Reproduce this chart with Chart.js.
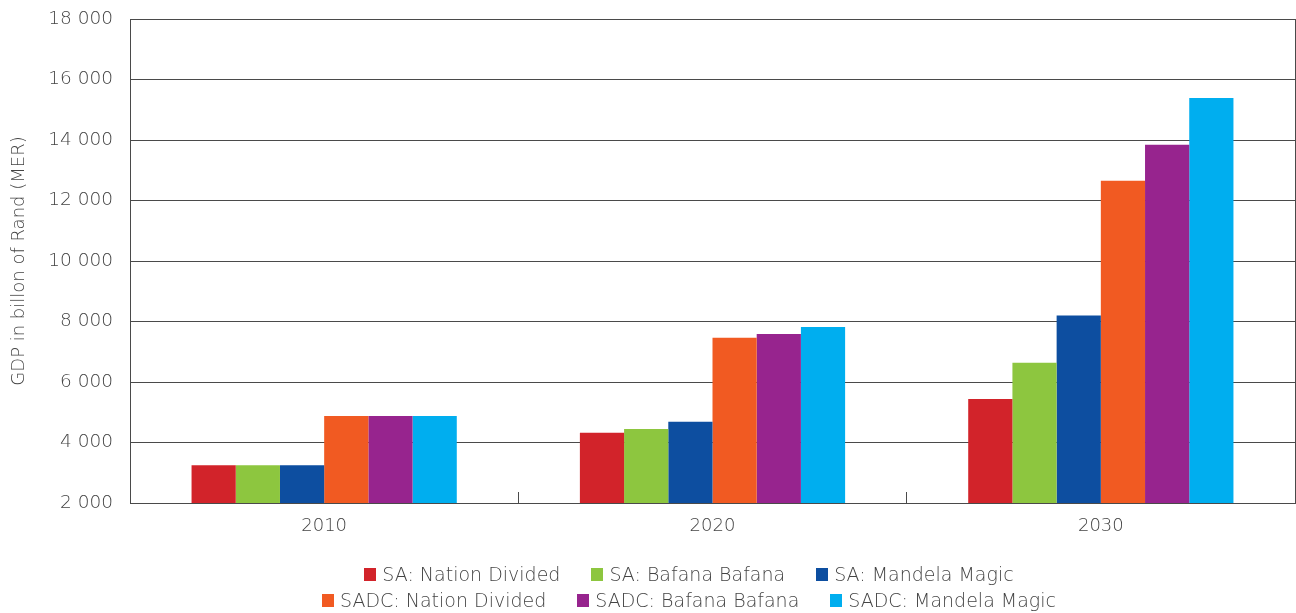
<!DOCTYPE html>
<html>
<head>
<meta charset="utf-8">
<script src="https://cdn.jsdelivr.net/npm/chart.js@4/dist/chart.umd.min.js"></script>
<style>
  html, body { margin: 0; padding: 0; background: #fff; }
  #wrap { position: relative; width: 1296px; height: 613px; }
  #legend { position: absolute; left: 0; top: 561px; width: 1296px; box-sizing: border-box; padding-left: 82px;
            font-family: 'DejaVu Sans', sans-serif; font-weight: 200; font-size: 19px; color: #444; }
  .row { display: flex; justify-content: center; gap: 31px; height: 26px; line-height: 26px; }
  .item { display: flex; align-items: center; white-space: nowrap; }
  .box { display: inline-block; width: 12px; height: 13px; margin-right: 6px; }
</style>
</head>
<body>
<div id="wrap">
  <canvas id="c"></canvas>
  <div id="legend"></div>
</div>
<script>
const categories = ['2010', '2020', '2030'];
const seriesNames = ['SA: Nation Divided', 'SA: Bafana Bafana', 'SA: Mandela Magic',
                     'SADC: Nation Divided', 'SADC: Bafana Bafana', 'SADC: Mandela Magic'];
const saNationDivided   = [3250, 4320, 5440];
const saBafanaBafana    = [3250, 4450, 6640];
const saMandelaMagic    = [3250, 4690, 8200];
const sadcNationDivided = [4880, 7460, 12650];
const sadcBafanaBafana  = [4880, 7590, 13840];
const sadcMandelaMagic  = [4880, 7820, 15390];
const seriesColors = ['#D2232A', '#8DC63F', '#0D4EA0', '#F15A22', '#97248E', '#00AEEF'];
const yTicks = [2000, 4000, 6000, 8000, 10000, 12000, 14000, 16000, 18000];
const yTitle = 'GDP in billon of Rand (MER)';

const seriesValues = [saNationDivided, saBafanaBafana, saMandelaMagic,
                      sadcNationDivided, sadcBafanaBafana, sadcMandelaMagic];

const fmt = v => String(v).replace(/\B(?=(\d{3})+(?!\d))/g, ' ');
const axisColor = '#4a4a4a';
const textColor = '#444';
const clear = 'rgba(0,0,0,0)';

Chart.defaults.font.family = "'DejaVu Sans', sans-serif";
Chart.defaults.font.weight = 200;
Chart.defaults.color = textColor;

new Chart(document.getElementById('c'), {
  type: 'bar',
  data: {
    labels: categories,
    datasets: seriesNames.map((n, i) => ({
      label: n,
      data: seriesValues[i],
      backgroundColor: seriesColors[i],
      borderWidth: 0,
      categoryPercentage: 0.683,
      barPercentage: 1.0
    }))
  },
  options: {
    responsive: true,
    maintainAspectRatio: false,
    animation: false,
    layout: { padding: { top: 19, right: 1, bottom: 0, left: 0 } },
    plugins: { legend: { display: false }, tooltip: { enabled: false } },
    scales: {
      x: {
        offset: true,
        grid: {
          display: true, drawOnChartArea: false, drawTicks: true, tickLength: -11, lineWidth: 1,
          color: axisColor,
          tickColor: c => (c.index > 0 && c.index < categories.length) ? axisColor : clear
        },
        border: { display: true, color: axisColor, width: 1 },
        ticks: { font: { size: 18, weight: 200 }, padding: 24, color: textColor },
        afterFit: s => { s.height = 110; }
      },
      y: {
        min: yTicks[0],
        max: yTicks[yTicks.length - 1],
        afterBuildTicks: s => { s.ticks = yTicks.map(v => ({ value: v })); },
        grid: { color: axisColor, lineWidth: 1, drawTicks: true, tickLength: 14, tickColor: clear },
        border: { display: true, color: axisColor, width: 1 },
        ticks: { font: { size: 18.5, weight: 200 }, padding: 3, color: textColor, callback: v => fmt(v) },
        title: { display: true, text: yTitle, font: { size: 18, weight: 200 }, color: textColor, padding: { top: 9, bottom: 0 } },
        afterFit: s => { s.width = 130; }
      },
      y2: {
        position: 'right',
        min: yTicks[0],
        max: yTicks[yTicks.length - 1],
        grid: { drawOnChartArea: false, drawTicks: false },
        border: { display: true, color: axisColor, width: 1 },
        ticks: { display: false },
        afterFit: s => { s.width = 0; }
      }
    }
  }
});

// HTML legend, two rows of three, built from the series arrays
const legend = document.getElementById('legend');
[[0, 1, 2], [3, 4, 5]].forEach(rowIdx => {
  const row = document.createElement('div');
  row.className = 'row';
  rowIdx.forEach(i => {
    const it = document.createElement('span');
    it.className = 'item';
    const b = document.createElement('span');
    b.className = 'box';
    b.style.background = seriesColors[i];
    it.appendChild(b);
    it.appendChild(document.createTextNode(seriesNames[i]));
    row.appendChild(it);
  });
  legend.appendChild(row);
});
</script>
</body>
</html>
